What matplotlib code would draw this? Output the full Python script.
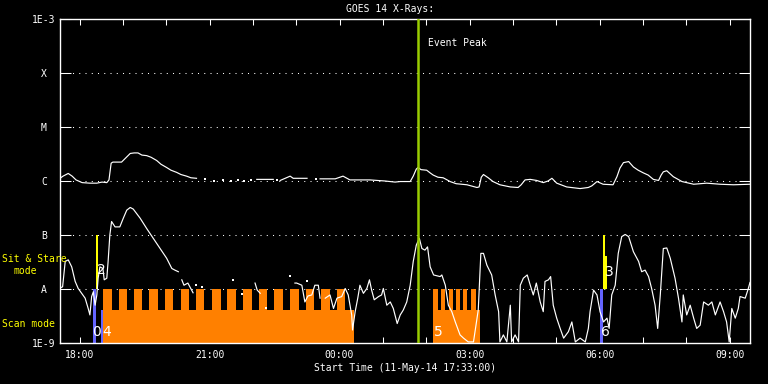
import numpy as np
import matplotlib
matplotlib.use("Agg")
import matplotlib.pyplot as plt

plt.rcParams["font.family"] = ["DejaVu Sans Mono", "DejaVu Sans"]

nan = np.nan
# time axis: hours since 11-May-14 17:33:00
x_end = 15.92
tick_hours = [0.45 + k for k in range(16)]
tick_labels = ["18:00", "", "", "21:00", "", "", "00:00", "", "", "03:00", "", "", "06:00", "", "", "09:00"]

y_levels = [-9, -8, -7, -6, -5, -4, -3]
y_labels = ["1E-9", "A", "B", "C", "M", "X", "1E-3"]

# GOES long channel (1-8 A), log10 flux
long_t = [0.0, 0.07, 0.19, 0.28, 0.37, 0.51, 0.69, 0.85, 0.97, 1.08, 1.13, 1.18, 1.22, 1.42, 1.52, 1.62,
          1.71, 1.80, 1.89, 2.00, 2.10, 2.23, 2.33, 2.46, 2.56, 2.69, 2.79, 2.92, 3.02, 3.15, nan,
          4.54, 4.92, nan, 5.08, 5.31, 5.38, 5.70, nan, 6.00, 6.35, 6.53, 6.69, 7.15, 7.50, 7.73,
          7.85, 8.08, 8.15, 8.22, 8.26, 8.33, 8.46, 8.54, 8.61, 8.72, 8.84, 8.91, 9.00, 9.14, 9.39,
          9.62, 9.67, 9.72, 9.77, 9.88, 9.99, 10.15, 10.39, 10.57, 10.64, 10.73, 10.85, 11.00, 11.15,
          11.26, 11.35, 11.46, 11.69, 12.00, 12.19, 12.27, 12.39, 12.53, 12.76, 12.85, 12.92, 13.00,
          13.12, 13.23, 13.34, 13.46, 13.57, 13.69, 13.81, 13.87, 13.92, 14.00, 14.15, 14.35, 14.62,
          14.92, 15.23, 15.54, 15.91]
long_L = [-5.95, -5.91, -5.86, -5.91, -5.98, -6.03, -6.04, -6.04, -6.02, -6.03, -5.98, -5.67, -5.65, -5.65, -5.57, -5.49,
          -5.48, -5.48, -5.52, -5.53, -5.56, -5.62, -5.69, -5.75, -5.80, -5.84, -5.88, -5.91, -5.94, -5.95, nan,
          -5.97, -5.97, nan, -5.99, -5.91, -5.95, -5.95, nan, -5.96, -5.96, -5.91, -5.98, -5.98, -6.00, -6.02,
          -6.01, -6.01, -5.91, -5.78, -5.75, -5.79, -5.80, -5.85, -5.89, -5.93, -5.94, -5.97, -6.01, -6.05, -6.07,
          -6.12, -6.11, -5.93, -5.88, -5.94, -6.01, -6.07, -6.11, -6.12, -6.07, -5.98, -5.97, -5.99, -6.03,
          -6.00, -5.95, -6.04, -6.11, -6.14, -6.12, -6.09, -6.01, -6.06, -6.07, -5.92, -5.76, -5.66,
          -5.64, -5.74, -5.80, -5.85, -5.89, -5.97, -5.99, -5.89, -5.83, -5.81, -5.92, -6.01, -6.06,
          -6.04, -6.06, -6.07, -6.06]
long_dots_t = [3.35, 3.55, 3.75, 3.95, 4.10, 4.25, 4.40, 5.00, 5.90]
long_dots_L = [-5.97, -6.00, -5.99, -6.00, -5.99, -6.00, -5.98, -5.98, -5.97]

# GOES short channel (0.5-4 A), log10 flux
short_t = [0.0, 0.06, 0.12, 0.19, 0.27, 0.35, 0.42, 0.50, 0.58, 0.65, 0.69, 0.73, 0.77, 0.81, 0.85, 0.88,
           0.92, 0.99, 1.02, 1.08, 1.11, 1.15, 1.19, 1.27, 1.38, 1.46, 1.54, 1.62, 1.69, 1.85, 2.00,
           2.15, 2.31, 2.46, 2.58, 2.65, 2.73, nan,
           2.81, 2.86, 2.95, 3.07, nan, 4.50, 4.55, 4.62, nan,
           5.42, 5.46, 5.58, 5.65, 5.72, 5.81, 5.88, 5.96, 6.00, nan, 6.12, 6.23, 6.31, 6.39, 6.50,
           6.58, 6.65, 6.73, 6.75, 6.81, 6.87, 6.92, 7.00, 7.08, 7.14, 7.19, 7.25, 7.35, 7.42, 7.46,
           7.54, 7.62, 7.69, 7.78, 7.85, 7.92, 8.00, 8.08, 8.15, 8.22, 8.29, 8.35, 8.42, 8.48, 8.54,
           8.62, 8.77, 8.81, 8.89, 8.96, 9.04, 9.12, 9.23, 9.31, 9.42, 9.54, 9.65, 9.71, 9.77, 9.85,
           9.96, 10.04, 10.12, 10.15, 10.23, 10.31, 10.39, 10.42, 10.50, 10.58, 10.62, 10.69, 10.78,
           10.85, 10.92, 10.99, 11.08, 11.15, 11.19, 11.27, 11.32, 11.38, 11.46, 11.54, 11.62, 11.73,
           11.81, 11.89, 12.00, 12.12, 12.19, 12.23, 12.31, 12.39, 12.46, 12.54, 12.62, 12.67, 12.73,
           12.81, 12.88, 12.96, 13.04, 13.12, 13.23, 13.35, 13.42, 13.50, 13.58, 13.65, 13.73, 13.79,
           13.85, 13.92, 14.00, 14.08, 14.19, 14.27, 14.35, 14.38, 14.46, 14.54, 14.62, 14.69, 14.77,
           14.85, 14.96, 15.04, 15.12, 15.23, 15.31, 15.38, 15.44, 15.50, 15.58, 15.65, 15.69, 15.81,
           15.87, 15.92]
short_L = [-7.98, -7.96, -7.49, -7.46, -7.59, -7.86, -7.99, -8.08, -8.17, -8.36, -8.48, -8.14, -8.05, -8.30, -8.11, -7.80,
           -7.59, -7.62, -7.83, -7.80, -7.49, -7.00, -6.75, -6.85, -6.85, -6.69, -6.54, -6.49, -6.52, -6.69, -6.88,
           -7.06, -7.25, -7.43, -7.62, -7.65, -7.68, nan,
           -7.83, -7.93, -7.89, -8.07, nan, -7.89, -8.02, -8.08, nan,
           -7.89, -7.89, -7.93, -8.24, -8.13, -8.11, -7.93, -7.93, -8.17, nan, -8.17, -8.11, -8.36, -8.17, -8.14,
           -7.99, -8.11, -8.48, -8.76, -8.42, -8.17, -7.93, -8.08, -7.99, -7.83, -8.02, -8.20, -8.14, -8.11, -7.99,
           -8.30, -8.24, -8.36, -8.64, -8.48, -8.39, -8.24, -7.93, -7.49, -7.19, -7.06, -7.25, -7.28, -7.22, -7.59,
           -7.74, -7.77, -7.74, -7.93, -8.30, -8.42, -8.61, -8.85, -8.91, -8.98, -8.98, -8.39, -7.34, -7.34, -7.56,
           -7.74, -8.11, -8.42, -8.98, -8.85, -8.98, -8.30, -8.98, -8.85, -8.98, -7.93, -7.80, -7.74,
           -7.93, -8.11, -7.89, -8.24, -8.42, -7.86, -7.83, -7.77, -8.30, -8.54, -8.73, -8.91, -8.79,
           -8.61, -8.98, -8.91, -8.98, -8.73, -8.42, -8.02, -8.11, -8.42, -8.61, -8.54, -8.73, -8.11,
           -7.93, -7.34, -7.03, -6.99, -7.03, -7.31, -7.49, -7.68, -7.65, -7.77, -7.99, -8.30, -8.73,
           -8.11, -7.25, -7.24, -7.43, -7.80, -8.17, -8.61, -8.11, -8.48, -8.30, -8.54, -8.73, -8.67,
           -8.24, -8.30, -8.24, -8.48, -8.24, -8.42, -8.61, -8.98, -8.36, -8.54, -8.36, -8.14, -8.17,
           -8.02, -7.88]
short_dots_t = [3.14, 3.28, 4.00, 4.20, 4.75, 5.31, 5.70]
short_dots_L = [-7.93, -7.96, -7.83, -8.10, -8.35, -7.75, -7.85]

# Scan mode observations (orange): start, end (hours), top (log10)
scan_t0 = [0.985, 8.601, 0.985, 1.369, 1.708, 2.061, 2.423, 2.786, 3.139, 3.501, 3.861, 4.230, 4.586,
           4.946, 5.308, 5.670, 6.023, 6.386, 8.601, 8.793, 8.970, 9.139, 9.308, 9.492]
scan_t1 = [6.790, 9.693, 1.193, 1.539, 1.899, 2.255, 2.615, 2.977, 3.323, 3.709, 4.062, 4.424, 4.784,
           5.140, 5.509, 5.862, 6.231, 6.577, 8.716, 8.885, 9.062, 9.231, 9.400, 9.593]
scan_top = [-8.39, -8.39] + [-8.0] * 22

# other scan-type observations (blue)
blue_t0 = [0.768, 0.946, 12.46]
blue_t1 = [0.831, 0.992, 12.52]
blue_top = [-8.0, -8.39, -8.0]

# Sit & stare observations (yellow), from A to top
sns_t0 = [0.831, 12.52, 12.58]
sns_t1 = [0.870, 12.58, 12.61]
sns_top = [-7.0, -7.0, -7.39]

event_peak = 8.257

# observation numbers
num_text = ["2", "0", "4", "5", "3", "6"]
num_t = [0.96, 0.85, 1.07, 8.72, 12.68, 12.58]
num_L = [-7.65, -8.80, -8.80, -8.80, -7.69, -8.80]

# ---------------------------------------------------------------
W, H = 768, 384
fig = plt.figure(figsize=(W / 100, H / 100), dpi=100, facecolor="black")
ax = fig.add_axes([60 / W, (H - 343) / H, 690 / W, 324 / H], facecolor="black")
ax.set_yscale("log")
ax.set_xlim(0, x_end)
ax.set_ylim(1e-9, 1e-3)

fs = 7
for lv in y_levels[1:-1]:
    ax.axhline(10.0 ** lv, color="white", lw=0.75, ls=(0, (1, 5)), zorder=1)

def bars(t0, t1, bot, top, color):
    t0 = np.array(t0); t1 = np.array(t1)
    b = 10.0 ** np.array(bot, dtype=float)
    tp = 10.0 ** np.array(top, dtype=float)
    ax.bar(t0, tp - b, width=t1 - t0, bottom=b, align="edge", color=color, linewidth=0, zorder=2)

bars(scan_t0, scan_t1, [-9.0] * len(scan_t0), scan_top, "#ff8000")
bars(blue_t0, blue_t1, [-9.0] * len(blue_t0), blue_top, "#6464ff")
bars(sns_t0, sns_t1, [-8.0] * len(sns_t0), sns_top, "#ffff00")

ax.plot(long_t, 10.0 ** np.array(long_L), color="white", lw=0.85, zorder=3)
ax.plot(short_t, 10.0 ** np.array(short_L), color="white", lw=0.85, zorder=3)
ax.scatter(long_dots_t, 10.0 ** np.array(long_dots_L), s=1.0, color="white", marker="s", linewidths=0, zorder=3)
ax.scatter(short_dots_t, 10.0 ** np.array(short_dots_L), s=1.0, color="white", marker="s", linewidths=0, zorder=3)

ax.axvline(event_peak, color="#99cc00", lw=1.8, zorder=4)
ax.text(event_peak + 0.23, 10.0 ** (-3.45), "Event Peak", color="white", fontsize=fs, ha="left", va="center", zorder=5)

for s, t, L in zip(num_text, num_t, num_L):
    ax.text(t, 10.0 ** L, s, color="white", fontsize=10, family="DejaVu Sans", ha="center", va="center", zorder=5)

for sp in ax.spines.values():
    sp.set_color("white")
    sp.set_linewidth(1.0)

ax.set_xticks(tick_hours)
ax.set_xticklabels(tick_labels)
ax.tick_params(axis="x", which="major", direction="in", length=4.5, width=0.75, color="white",
               labelcolor="white", labelsize=fs, top=True, bottom=True, pad=5)
ax.set_yticks([10.0 ** v for v in y_levels])
ax.set_yticklabels(y_labels)
ax.yaxis.set_minor_locator(matplotlib.ticker.NullLocator())
ax.tick_params(axis="y", which="major", direction="in", length=8, width=0.75, color="white",
               labelcolor="white", labelsize=fs, left=True, right=True, pad=11.5)
for lbl in ax.get_yticklabels():
    lbl.set_horizontalalignment("center")

fig.text(390 / W, 1 - 9 / H, "GOES 14 X-Rays:", color="white", fontsize=fs, ha="center", va="center")
fig.text(405 / W, 1 - 368 / H, "Start Time (11-May-14 17:33:00)", color="white", fontsize=fs, ha="center", va="center")
fig.text(2 / W, 1 - 258.5 / H, "Sit & Stare", color="yellow", fontsize=fs, ha="left", va="center")
fig.text(13 / W, 1 - 271 / H, "mode", color="yellow", fontsize=fs, ha="left", va="center")
fig.text(2 / W, 1 - 324 / H, "Scan mode", color="yellow", fontsize=fs, ha="left", va="center")

fig.savefig("out.png", dpi=100, facecolor="black")
